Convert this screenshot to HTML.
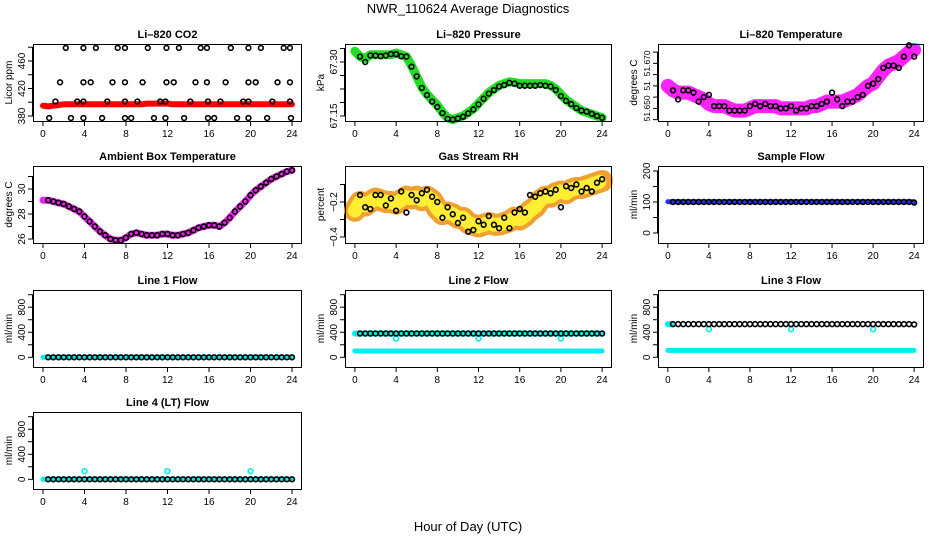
<!DOCTYPE html>
<html><head><meta charset="utf-8"><style>
html,body{margin:0;padding:0;background:#fff;}
svg{display:block;font-family:"Liberation Sans",Arial,sans-serif;}
</style></head><body>
<svg id="c" width="936" height="540" viewBox="0 0 936 540">
<text x="468" y="13" text-anchor="middle" font-size="13">NWR_110624  Average Diagnostics</text>
<text x="468" y="531" text-anchor="middle" font-size="13">Hour of Day (UTC)</text>
</svg>
<script>
const H=[0,0.5,1,1.5,2,2.5,3,3.5,4,4.5,5,5.5,6,6.5,7,7.5,8,8.5,9,9.5,10,10.5,11,11.5,12,12.5,13,13.5,14,14.5,15,15.5,16,16.5,17,17.5,18,18.5,19,19.5,20,20.5,21,21.5,22,22.5,23,23.5,24];
const xTicks=[0,4,8,12,16,20,24];
// CO2
const co2Band=[395,394,395,396,397,397,397,397,397,397,397,397,397,397,397,397,397,397,397,397,398,398,398,398,398,397,397,397,397,397,397,397,397,397,397,397,397,397,397,397,397,397,397,397,397,397,397,397,397];
const co2Hours=[2.2,3.9,5.1,7.2,7.9,10.1,11.9,13.1,15.2,15.8,18.1,19.8,21.0,23.2,23.8,1.65,3.9,4.6,6.7,7.9,9.6,11.9,12.6,14.7,15.8,17.6,19.8,20.5,22.6,23.8,1.2,3.3,3.9,6.2,7.9,9.1,11.3,11.8,14.2,15.9,17.1,19.3,19.8,22.1,23.8,0.6,2.7,3.9,5.7,7.9,8.5,10.7,11.8,13.6,15.9,16.5,18.7,19.8,21.6,23.9];
const co2Vals=[479,479,479,479,479,479,479,479,479,479,479,479,479,479,479,429,429,429,429,429,429,429,429,429,429,429,429,429,429,429,401,401,401,401,401,401,401,401,401,401,401,401,401,401,401,377,377,377,377,377,377,377,377,377,377,377,377,377,377,377];
// Pressure
const presBand=[67.33,67.315,67.31,67.32,67.32,67.32,67.32,67.32,67.325,67.32,67.315,67.29,67.26,67.23,67.21,67.195,67.18,67.16,67.145,67.14,67.145,67.15,67.16,67.17,67.185,67.2,67.215,67.225,67.235,67.24,67.245,67.243,67.24,67.24,67.24,67.24,67.24,67.24,67.235,67.225,67.21,67.195,67.185,67.175,67.165,67.16,67.155,67.15,67.145];
const presCirc=[67.33,67.315,67.3,67.318,67.318,67.316,67.318,67.322,67.322,67.316,67.315,67.287,67.26,67.228,67.208,67.19,67.175,67.158,67.142,67.14,67.143,67.148,67.157,67.168,67.182,67.198,67.212,67.222,67.232,67.236,67.242,67.24,67.234,67.234,67.234,67.234,67.236,67.234,67.232,67.222,67.205,67.192,67.183,67.172,67.165,67.162,67.156,67.15,67.145];
// Li-820 temperature
const tempBand=[51.660,51.658,51.657,51.657,51.657,51.656,51.655,51.654,51.652,51.651,51.651,51.651,51.650,51.649,51.649,51.649,51.650,51.651,51.651,51.651,51.651,51.651,51.650,51.650,51.650,51.650,51.650,51.650,51.651,51.651,51.652,51.653,51.653,51.653,51.653,51.654,51.655,51.656,51.658,51.660,51.661,51.664,51.667,51.669,51.670,51.671,51.673,51.675,51.676];
const tempCirc=[51.660,51.658,51.654,51.658,51.658,51.657,51.653,51.655,51.656,51.651,51.651,51.651,51.649,51.649,51.649,51.649,51.651,51.652,51.651,51.652,51.651,51.651,51.650,51.650,51.651,51.649,51.650,51.650,51.651,51.651,51.652,51.653,51.657,51.654,51.651,51.653,51.653,51.655,51.656,51.660,51.661,51.663,51.668,51.669,51.669,51.668,51.673,51.678,51.673];
// Ambient box temperature
const ambBand=[29.1,29.1,29.0,28.9,28.8,28.6,28.4,28.2,27.8,27.4,27.0,26.6,26.3,26.0,25.9,25.9,26.1,26.4,26.5,26.4,26.3,26.3,26.3,26.4,26.4,26.3,26.3,26.4,26.5,26.7,26.9,27.0,27.1,27.1,27.0,27.3,27.7,28.2,28.6,29.0,29.5,29.9,30.2,30.5,30.8,31.0,31.2,31.4,31.5];
// Gas stream RH
const rhBand=[-0.25,-0.2,-0.22,-0.2,-0.18,-0.19,-0.2,-0.2,-0.21,-0.19,-0.17,-0.18,-0.17,-0.19,-0.17,-0.19,-0.24,-0.27,-0.26,-0.27,-0.29,-0.29,-0.32,-0.33,-0.34,-0.33,-0.32,-0.33,-0.33,-0.32,-0.31,-0.29,-0.3,-0.28,-0.25,-0.23,-0.19,-0.17,-0.17,-0.15,-0.14,-0.15,-0.13,-0.12,-0.12,-0.11,-0.1,-0.09,-0.08];
const rhCirc=[null,-0.16,-0.23,-0.24,-0.16,-0.16,-0.22,-0.18,-0.25,-0.14,-0.26,-0.16,-0.19,-0.15,-0.13,-0.17,-0.2,-0.29,-0.23,-0.27,-0.32,-0.29,-0.37,-0.36,-0.31,-0.33,-0.28,-0.33,-0.35,-0.29,-0.35,-0.26,-0.24,-0.26,-0.16,-0.17,-0.15,-0.14,-0.15,-0.13,-0.23,-0.11,-0.12,-0.1,-0.14,-0.12,-0.14,-0.09,-0.07];
// Flows
const sampBand=[101,101,101,101,101,101,101,101,101,101,101,101,101,101,101,101,101,101,101,101,101,101,101,101,101,101,101,101,101,101,101,101,101,101,101,101,101,101,101,101,101,101,101,101,101,101,101,101,101];
const sampCirc=[100,100,100,100,100,100,100,100,100,100,100,100,100,100,100,100,100,100,100,100,100,100,100,100,100,100,100,100,100,100,100,100,100,100,100,100,100,100,100,100,100,100,100,100,100,100,100,100,98];
const l1Cyan=[0,0,0,0,0,0,0,0,0,0,0,0,0,0,0,0,0,0,0,0,0,0,0,0,0,0,0,0,0,0,0,0,0,0,0,0,0,0,0,0,0,0,0,0,0,0,0,0,0];
const l1Black=[0,0,0,0,0,0,0,0,0,0,0,0,0,0,0,0,0,0,0,0,0,0,0,0,0,0,0,0,0,0,0,0,0,0,0,0,0,0,0,0,0,0,0,0,0,0,0,0,0];
const l2Black=[380,380,380,380,380,380,380,380,380,380,380,380,380,380,380,380,380,380,380,380,380,380,380,380,380,380,380,380,380,380,380,380,380,380,380,380,380,380,380,380,380,380,380,380,380,380,380,380,380];
const l2CyanLo=[100,100,100,100,100,100,100,100,100,100,100,100,100,100,100,100,100,100,100,100,100,100,100,100,100,100,100,100,100,100,100,100,100,100,100,100,100,100,100,100,100,100,100,100,100,100,100,100,100];
const l3Black=[530,530,530,530,530,530,530,530,530,530,530,530,530,530,530,530,530,530,530,530,530,530,530,530,530,530,530,530,530,530,530,530,530,530,530,530,530,530,530,530,530,530,530,530,530,530,530,530,525];
const l3CyanLo=[110,110,110,110,110,110,110,110,110,110,110,110,110,110,110,110,110,110,110,110,110,110,110,110,110,110,110,110,110,110,110,110,110,110,110,110,110,110,110,110,110,110,110,110,110,110,110,110,110];
const outHours=[4,12,20];
const l2Out=[300,300,300];
const l3Out=[450,450,450];
const l4Out=[130,130,130];

const NS="http://www.w3.org/2000/svg";
const svg=document.getElementById('c');
function mk(tag,attrs,parent){const e=document.createElementNS(NS,tag);for(const k in attrs)e.setAttribute(k,attrs[k]);(parent||svg).appendChild(e);return e;}

const colX=[[33,302],[345,612],[658,924]];
const rowY=[44,166,290,412];
const BH=77;

function panel(col,row,title,ylab,ylim,yt,ytl,name,yfs){
  const [L,R]=colX[col],T=rowY[row],B=T+BH;
  const g=mk('g',{});
  
  
  const span=24*1.08,x0=L+(R-L)*0.04/1.08;
  const xs=h=>x0+h*(R-L)/span;
  const ys=v=>B-(v-ylim[0])/(ylim[1]-ylim[0])*BH;
  const t=mk('text',{x:(L+R)/2,y:T-6,'text-anchor':'middle','font-size':11,'font-weight':'bold'},g);t.textContent=title;
  
  const yl=mk('text',{transform:`translate(${L-21},${(T+B)/2}) rotate(-90)`,'text-anchor':'middle','font-size':10},g);yl.textContent=ylab;
  
  const ax=mk('g',{stroke:'#000','stroke-width':1},g);
  
  mk('line',{x1:xs(0),x2:xs(24),y1:B+0.5,y2:B+0.5},ax);
  xTicks.forEach(v=>{
    mk('line',{x1:xs(v),x2:xs(v),y1:B,y2:B+5},ax);
    const tl=mk('text',{x:xs(v),y:B+16,'text-anchor':'middle','font-size':10},g);tl.textContent=v;
    
  });
  mk('line',{x1:L-0.5,x2:L-0.5,y1:ys(yt[0]),y2:ys(yt[yt.length-1])},ax);
  yt.forEach((v,i)=>{
    mk('line',{x1:L-5,x2:L,y1:ys(v),y2:ys(v)},ax);
    if(ytl[i]!==''){const tl=mk('text',{transform:`translate(${L-8},${ys(v)}) rotate(-90)`,'text-anchor':'middle','font-size':yfs||10},g);tl.textContent=ytl[i];
      }
  });
  const plot=mk('g',{},g);
  
  mk('rect',{x:L+0.5,y:T+0.5,width:R-L-1,height:BH,fill:'none',stroke:'#000','stroke-width':1},g);
  return {xs,ys,plot};
}
function band(p,xsArr,vals,color,w,name,dash){
  const pts=xsArr.map((h,i)=>p.xs(h).toFixed(1)+','+p.ys(vals[i]).toFixed(1)).join(' ');
  const e=mk('polyline',{points:pts,fill:'none',stroke:color,'stroke-width':w,'stroke-linecap':'round','stroke-linejoin':'round'},p.plot);
  if(dash)e.setAttribute('stroke-dasharray',dash);
  
}
function circles(p,xsArr,vals,color,name,start){
  const g=mk('g',{fill:'none',stroke:color,'stroke-width':1.6},p.plot);
  
  xsArr.forEach((h,i)=>{if(i<(start||0)||vals[i]==null)return;
    const c=mk('circle',{cx:p.xs(h),cy:p.ys(vals[i]),r:2.4},g);
    });
}

// Row 1
let p=panel(0,0,'Li\u2013820 CO2','Licor ppm',[372.7,484.7],[380,400,420,440,460,480],['380','','420','','460',''],'co2');
band(p,H,co2Band,'#ff0000',6,'co2-band');
circles(p,co2Hours,co2Vals,'#000','co2-points');

p=panel(1,0,'Li\u2013820 Pressure','kPa',[67.136,67.35],[67.15,67.1875,67.225,67.2625,67.30,67.3375],['67.15','','','','67.30',''],'pressure');
band(p,H,presBand,'#22dd22',9,'pressure-band');
circles(p,H,presCirc,'#000','pressure-points',1);

p=panel(2,0,'Li\u2013820 Temperature','degrees C',[51.6444,51.6786],[51.645,51.65,51.655,51.66,51.665,51.67,51.675],['','51.650','','51','','51.670',''],'temperature',8.5);
band(p,H,tempBand,'#ff22ff',14,'temperature-band');
circles(p,H,tempCirc,'#000','temperature-points',1);

// Row 2
p=panel(0,1,'Ambient Box Temperature','degrees C',[25.68,31.84],[26,27,28,29,30,31],['26','','28','','30',''],'ambient');
band(p,H,ambBand,'#ee22ee',7,'ambient-band');
circles(p,H,ambBand,'#000','ambient-points',1);

p=panel(1,1,'Gas Stream RH','percent',[-0.4343,0.0057],[-0.4,-0.3,-0.2,-0.1],['\u22120.4','','\u22120.2',''],'rh');
band(p,H,rhBand,'#f0a030',22,'rh-band');
band(p,H,rhBand,'#ffee33',14,'rh-band-inner','2 3');
circles(p,H,rhCirc,'#000','rh-points');

p=panel(2,1,'Sample Flow','ml/min',[-32.3,216],[0,50,100,150,200],['0','','100','','200'],'sample-flow');
band(p,H,sampBand,'#2233ee',5,'sample-flow-band');
circles(p,H,sampCirc,'#000','sample-flow-points',1);

// Row 3
const fl=[-155,1075],ft=[0,200,400,600,800,1000],ftl=['0','','400','','800',''];
p=panel(0,2,'Line 1 Flow','ml/min',fl,ft,ftl,'line1-flow');
band(p,H,l1Cyan,'#00eeee',5,'line1-cyan-band');
circles(p,H,l1Black,'#000','line1-points',1);

p=panel(1,2,'Line 2 Flow','ml/min',fl,ft,ftl,'line2-flow');
band(p,H,l2CyanLo,'#00eeee',5,'line2-cyan-low-band');
band(p,H,l2Black,'#00eeee',6,'line2-cyan-high-band');
circles(p,outHours,l2Out,'#00eeee','line2-cyan-outliers');
circles(p,H,l2Black,'#000','line2-points',1);

p=panel(2,2,'Line 3 Flow','ml/min',fl,ft,ftl,'line3-flow');
band(p,H,l3CyanLo,'#00eeee',5,'line3-cyan-low-band');
band(p,[0,0.3],[530,530],'#00eeee',6,'line3-cyan-start');
circles(p,outHours,l3Out,'#00eeee','line3-cyan-outliers');
circles(p,H,l3Black,'#000','line3-points',1);

// Row 4
p=panel(0,3,'Line 4 (LT) Flow','ml/min',fl,ft,ftl,'line4-flow');
band(p,H,l1Cyan,'#00eeee',5,'line4-cyan-band');
circles(p,outHours,l4Out,'#00eeee','line4-cyan-outliers');
circles(p,H,l1Black,'#000','line4-points',1);
</script>
</body></html>
